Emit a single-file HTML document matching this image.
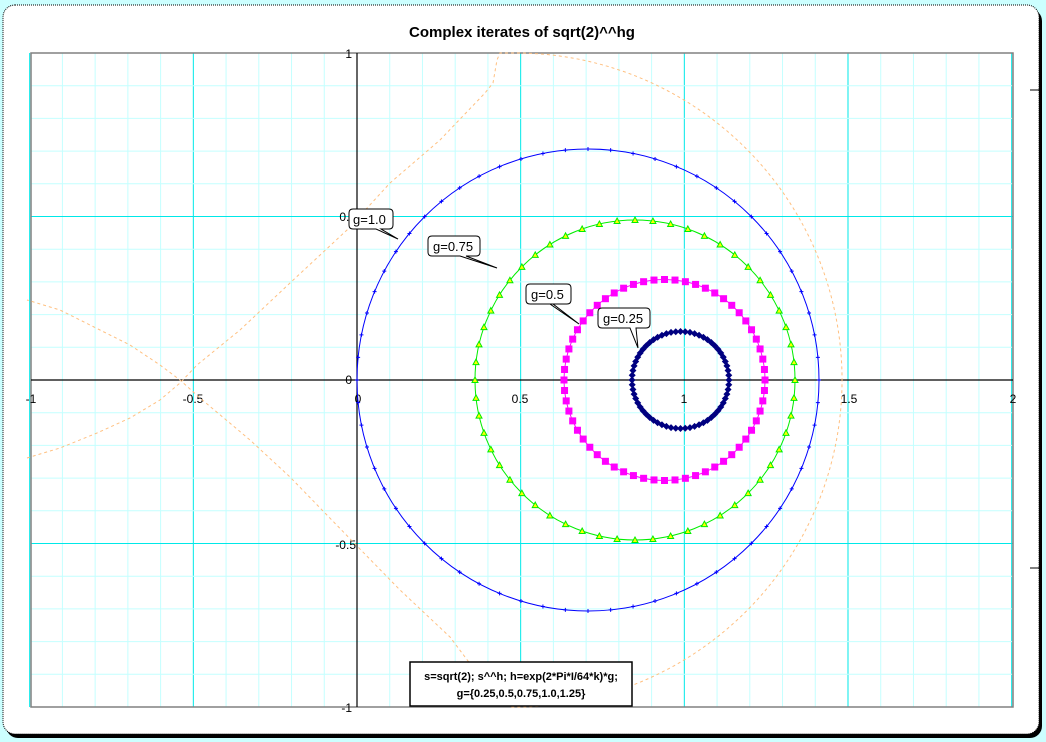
<!DOCTYPE html>
<html><head><meta charset="utf-8"><style>
html,body{margin:0;padding:0;background:#ccffff;}
svg{display:block;font-family:"Liberation Sans",sans-serif;}
</style></head><body>
<svg id="s" width="1046" height="742" viewBox="0 0 1046 742" xmlns="http://www.w3.org/2000/svg">
<rect x="0" y="0" width="1046" height="742" fill="#ccffff"/>
<rect x="6" y="9" width="1036" height="729" rx="12" fill="#000"/>
<rect x="3" y="5" width="1036" height="729" rx="12" fill="#fff" stroke="#000" stroke-width="1" stroke-dasharray="1,1"/>
<text x="522" y="37" font-size="15" font-weight="bold" text-anchor="middle">Complex iterates of sqrt(2)^^hg</text>
<g id="grid"></g>
<rect x="31" y="53" width="982" height="654" fill="none" stroke="#808080" stroke-width="1.5"/>
<line x1="31" y1="380" x2="1013" y2="380" stroke="#000" stroke-width="1.2"/>
<line x1="357" y1="53" x2="357" y2="707" stroke="#000" stroke-width="1.2"/>
<g font-size="12" fill="#000">
<text x="31" y="403" text-anchor="middle">-1</text>
<text x="193" y="403" text-anchor="middle">-0.5</text>
<text x="358" y="403" text-anchor="middle">0</text>
<text x="520" y="403" text-anchor="middle">0.5</text>
<text x="684" y="403" text-anchor="middle">1</text>
<text x="849" y="403" text-anchor="middle">1.5</text>
<text x="1013" y="403" text-anchor="middle">2</text>
<text x="352" y="58" text-anchor="end">1</text>
<text x="356" y="221" text-anchor="end">0.5</text>
<text x="352" y="384" text-anchor="end">0</text>
<text x="356" y="549" text-anchor="end">-0.5</text>
<text x="352" y="712" text-anchor="end">-1</text>
</g>
<line x1="1030" y1="90" x2="1040" y2="90" stroke="#000"/>
<line x1="1030" y1="568" x2="1040" y2="568" stroke="#000"/>
<path d="M27,458 L60,448 L97,433 L130,418 L160,400 L180,383 L197,365 L240,330 L290,283 L347,230 L390,183 L440,140 L485,93 L493,83 L497,60 L500,53 L520,53 A327,327 0 0 1 510,707 L490,690 L465,657 L450,637 L400,590 L358,547 L290,477 L250,440 L200,398 L180,380 L160,365 L130,345 L100,330 L60,310 L27,300" fill="none" stroke="#ffc080" stroke-width="1" stroke-dasharray="3,3"/>
<g id="curves"></g>
<g font-size="13" fill="#000">
<path d="M353,209 h36 q4,0 4,4 v12 q0,4 -4,4 h-8 l17,10 l-22,-10 h-23 q-4,0 -4,-4 v-12 q0,-4 4,-4z" fill="#fff" stroke="#000"/>
<text x="353" y="224">g=1.0</text>
<path d="M432,236 h44 q4,0 4,4 v12 q0,4 -4,4 h-10 l31,12 l-37,-12 h-28 q-4,0 -4,-4 v-12 q0,-4 4,-4z" fill="#fff" stroke="#000"/>
<text x="433" y="251">g=0.75</text>
<path d="M530,284 h37 q4,0 4,4 v12 q0,4 -4,4 h-17 l29,20 l-26,-20 h-23 q-4,0 -4,-4 v-12 q0,-4 4,-4z" fill="#fff" stroke="#000"/>
<text x="531" y="299">g=0.5</text>
<path d="M602,308 h44 q4,0 4,4 v12 q0,4 -4,4 h-10 l2,20 l-8,-20 h-28 q-4,0 -4,-4 v-12 q0,-4 4,-4z" fill="#fff" stroke="#000"/>
<text x="603" y="323">g=0.25</text>
</g>
<rect x="410" y="662" width="222" height="44" fill="#fff" stroke="#000" stroke-width="1.5"/>
<text x="521" y="680" font-size="11" font-weight="bold" text-anchor="middle">s=sqrt(2); s^^h; h=exp(2*Pi*I/64*k)*g;</text>
<text x="521" y="697" font-size="11" font-weight="bold" text-anchor="middle">g={0.25,0.5,0.75,1.0,1.25}</text>
</svg>
<script>
var NS="http://www.w3.org/2000/svg";
function el(p,t,a){var e=document.createElementNS(NS,t);for(var k in a)e.setAttribute(k,a[k]);p.appendChild(e);return e;}
var g=document.getElementById("grid");
var ux=327.33,uy=327;
for(var i=-10;i<=20;i++){if(i===0)continue;var x=357+i*ux/10;var maj=(i%5===0);
 el(g,"line",{x1:x,y1:53,x2:x,y2:707,stroke:maj?"#00e8e8":"#c4ffff","stroke-width":1});}
for(var j=-10;j<=10;j++){if(j===0)continue;var y=380-j*uy/10;var maj=(j%5===0);
 el(g,"line",{x1:31,y1:y,x2:1013,y2:y,stroke:maj?"#00e8e8":"#c4ffff","stroke-width":1});}
var c=document.getElementById("curves");
function circ(cx,r,col,mk,n){
 el(c,"circle",{cx:cx,cy:380,r:r,fill:"none",stroke:col,"stroke-width":1});
 for(var k=0;k<n;k++){var a=2*Math.PI*k/n;var x=cx-r*Math.cos(a),y=380-r*Math.sin(a);
  if(mk=="plus"){el(c,"path",{d:"M"+(x-2)+","+y+"h4M"+x+","+(y-2)+"v4",stroke:col,"stroke-width":1});}
  else if(mk=="tri"){el(c,"path",{d:"M"+x+","+(y-3)+"L"+(x+3)+","+(y+2.5)+"L"+(x-3)+","+(y+2.5)+"Z",fill:"#ffff00",stroke:col,"stroke-width":1});}
  else if(mk=="sq"){el(c,"rect",{x:x-3.5,y:y-3.5,width:7,height:7,fill:col});}
  else {el(c,"path",{d:"M"+x+","+(y-3.5)+"L"+(x+3.5)+","+y+"L"+x+","+(y+3.5)+"L"+(x-3.5)+","+y+"Z",fill:col});}
 }}
circ(588,231,"#0000ff","plus",64);
circ(635,160,"#00ee00","tri",56);
circ(664.5,100.5,"#ff00ff","sq",60);
circ(680.5,48.5,"#000080","dia",64);
</script>
</body></html>
